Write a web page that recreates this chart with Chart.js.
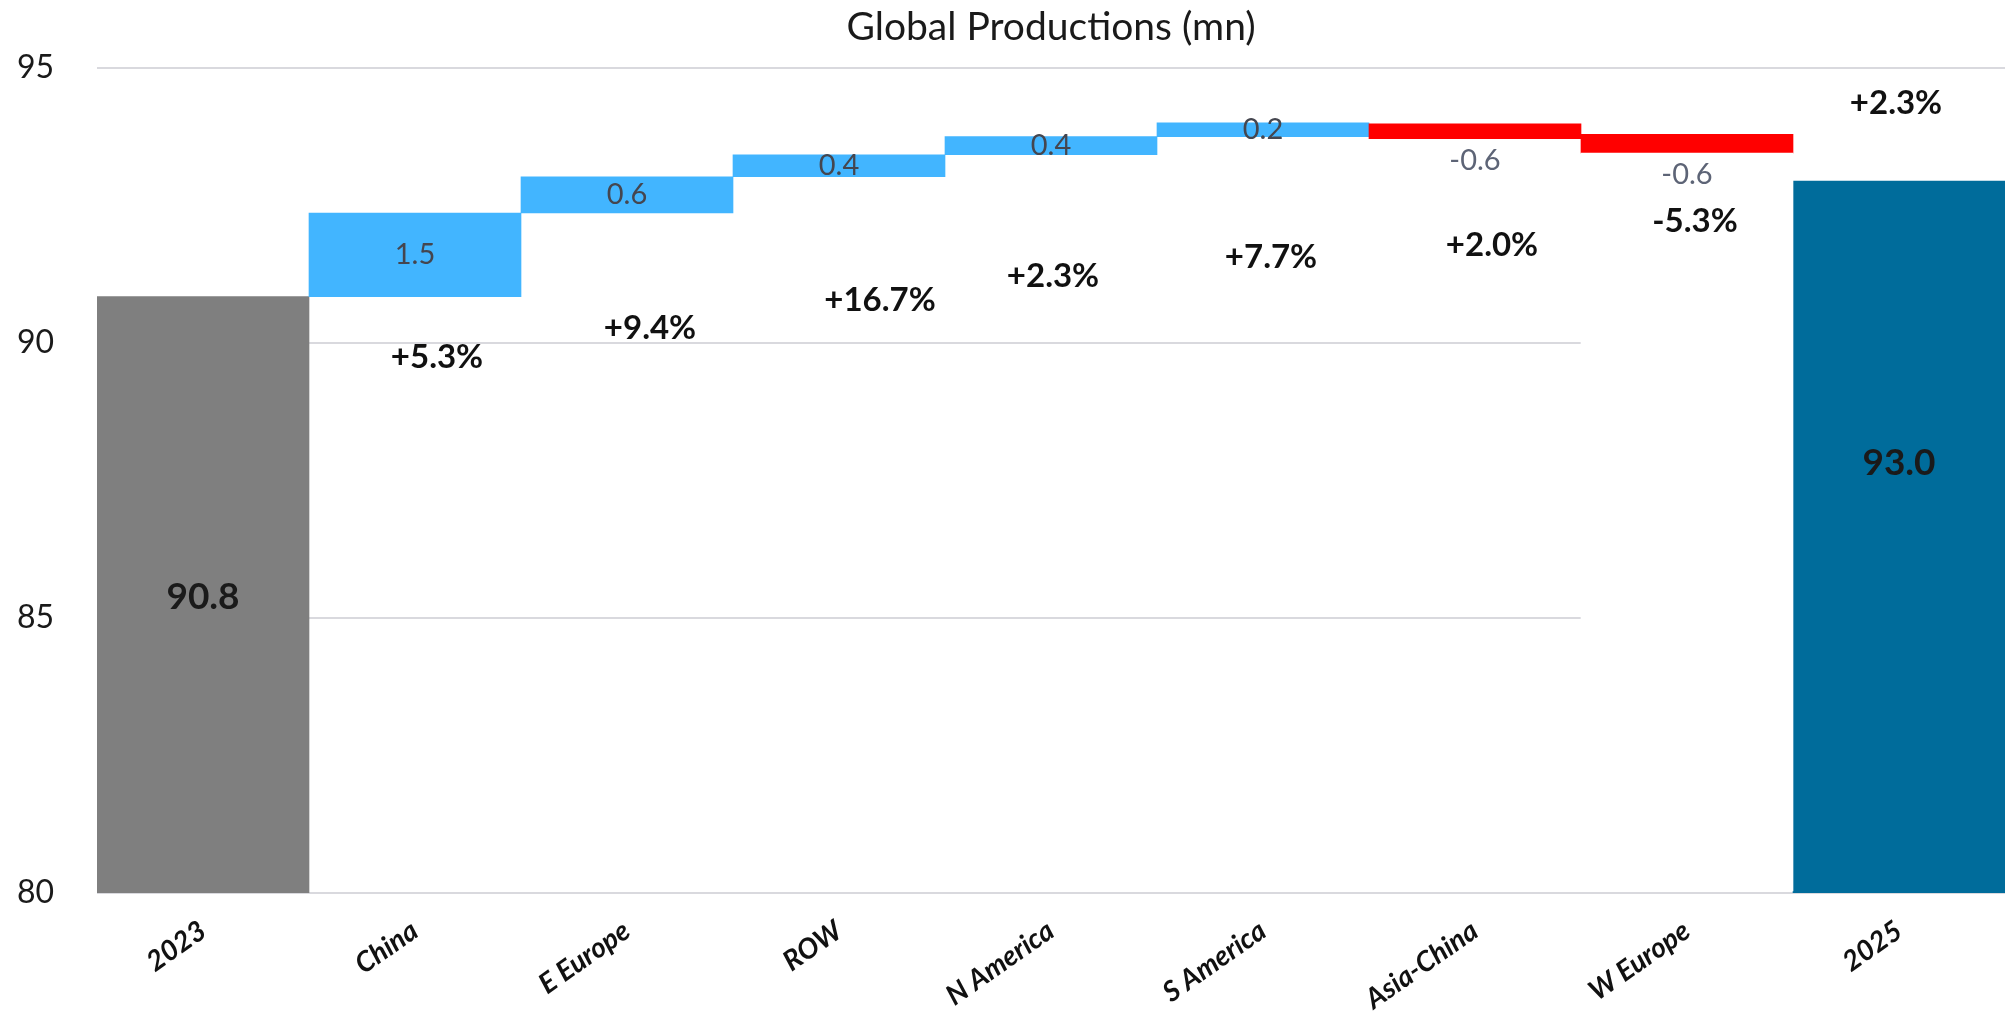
<!DOCTYPE html>
<html>
<head>
<meta charset="utf-8">
<script src="https://cdn.jsdelivr.net/npm/chart.js@4"></script>
<style>
  html, body { margin: 0; padding: 0; background: #fff; }
  #wrap { width: 2005px; height: 1016px; }
</style>
</head>
<body>
<div id="wrap"><canvas id="waterfall"></canvas></div>
<script>
// categories along the x axis
const categories = ['2023', 'China', 'E Europe', 'ROW', 'N America', 'S America', 'Asia-China', 'W Europe', '2025'];

// floating bar ends (mn)
const barLow  = [80,    90.84, 92.36, 93.02, 93.42, 93.75, 93.71, 93.45, 80];
const barHigh = [90.84, 92.36, 93.02, 93.42, 93.75, 94.00, 93.98, 93.79, 92.94];

// printed labels
const changeValues = [null, 1.5, 0.6, 0.4, 0.4, 0.2, -0.6, -0.6, null];
const totalValues  = [90.8, null, null, null, null, null, null, null, 93.0];
const growthLabels = ['', '+5.3%', '+9.4%', '+16.7%', '+2.3%', '+7.7%', '+2.0%', '-5.3%', '+2.3%'];

// white filler under W Europe (hides the gridlines there, like the original)
const hiddenBase = [null, null, null, null, null, null, null, [80.04, 93.45], null];

const yTicks = [80, 85, 90, 95];

const barColors = ['#7f7f7f', '#42b5ff', '#42b5ff', '#42b5ff', '#42b5ff', '#42b5ff', '#ff0000', '#ff0000', '#006c9b'];

const waterfallLabels = {
  id: 'waterfallLabels',
  afterDatasetsDraw(chart, args, opts) {
    const { ctx, scales: { y } } = chart;
    const bars = chart.getDatasetMeta(1).data;
    ctx.save();
    ctx.textAlign = 'center';
    ctx.textBaseline = 'middle';
    bars.forEach((bar, i) => {
      const v = changeValues[i];
      if (v != null) {
        const top = Math.min(bar.y, bar.base);
        const bottom = Math.max(bar.y, bar.base);
        ctx.font = '29px Lato';
        ctx.fillStyle = v < 0 ? '#5d6476' : '#45464f';
        ctx.fillText(v.toFixed(1), bar.x, v < 0 ? bottom + opts.negGap : (top + bottom) / 2);
      }
      if (totalValues[i] != null) {
        ctx.font = 'bold 37px Lato';
        ctx.fillStyle = '#1a1a1a';
        ctx.fillText(totalValues[i].toFixed(1), bar.x, y.getPixelForValue(opts.totalY[i]));
      }
      if (growthLabels[i]) {
        const p = opts.growthPos[i];
        ctx.font = 'bold 33px Lato';
        ctx.fillStyle = '#111111';
        ctx.fillText(growthLabels[i], bar.x + p.dx, y.getPixelForValue(p.y));
      }
    });
    ctx.restore();
  }
};

new Chart(document.getElementById('waterfall'), {
  type: 'bar',
  data: {
    labels: categories,
    datasets: [{
      label: 'base',
      data: hiddenBase,
      backgroundColor: '#ffffff',
      barPercentage: 1,
      categoryPercentage: 1
    }, {
      label: 'Global Productions',
      data: categories.map((c, i) => [barLow[i], barHigh[i]]),
      backgroundColor: barColors,
      barPercentage: 1,
      categoryPercentage: 1
    }]
  },
  options: {
    responsive: true,
    maintainAspectRatio: false,
    animation: false,
    layout: { padding: 0 },
    plugins: {
      legend: { display: false },
      tooltip: { enabled: false },
      title: {
        display: true,
        fullSize: false,
        text: 'Global Productions (mn)',
        color: '#1a1a1a',
        font: { family: 'Lato', size: 39, weight: 'normal', lineHeight: 1.2 },
        padding: { top: 4, bottom: 17 }
      },
      waterfallLabels: {
        negGap: 22,
        totalY: [85.38, null, null, null, null, null, null, null, 87.82],
        growthPos: [
          null,
          { dx: 22, y: 89.74 },
          { dx: 23, y: 90.26 },
          { dx: 41, y: 90.78 },
          { dx: 2,  y: 91.2 },
          { dx: 8,  y: 91.56 },
          { dx: 17, y: 91.78 },
          { dx: 8,  y: 92.2 },
          { dx: -3, y: 94.36 }
        ]
      }
    },
    scales: {
      x: {
        stacked: true,
        grid: { display: false },
        border: { display: false },
        ticks: {
          color: '#111111',
          font: { family: 'Lato', size: 28, weight: 'bold', style: 'italic' },
          minRotation: 35,
          maxRotation: 35,
          padding: 13
        },
        afterFit(scale) {
          scale.height = 123;
          scale.paddingLeft = 0;
          scale.paddingRight = 0;
        }
      },
      y: {
        min: 80,
        max: 95,
        grid: { color: '#d9d9de', lineWidth: 2, drawTicks: false },
        border: { display: false },
        afterBuildTicks(scale) {
          scale.ticks = yTicks.map(v => ({ value: v }));
        },
        ticks: {
          color: '#1a1a1a',
          font: { family: 'Lato', size: 32 },
          padding: 43
        },
        afterFit(scale) {
          scale.width = 97;
        }
      }
    }
  },
  plugins: [waterfallLabels]
});
</script>
</body>
</html>
